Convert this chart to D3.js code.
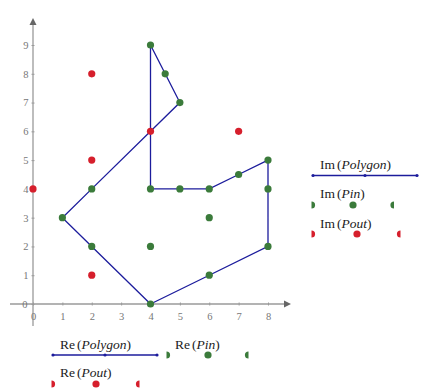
<!DOCTYPE html>
<html><head><meta charset="utf-8">
<script src="https://cdn.jsdelivr.net/npm/d3@7"></script>
<style>body{margin:0;background:#fff}svg{display:block}
.serif{font-family:"Liberation Serif","DejaVu Serif",serif}</style>
</head><body>
<svg id="c" width="440" height="389"></svg>
<script>
const polygonRe = [4,6,8,8,8,7,6,5,4,4,4.5,5,2,1,2,4];
const polygonIm = [0,1,2,4,5,4.5,4,4,4,9,8,7,4,3,2,0];
const pinRe = [4,6,8,8,8,7,6,5,4,4,4.5,5,2,1,2,6,4];
const pinIm = [0,1,2,4,5,4.5,4,4,4,9,8,7,4,3,2,3,2];
const poutRe = [0,2,2,2,4,7];
const poutIm = [4,8,5,1,6,6];
const xTicks = [0,1,2,3,4,5,6,7,8];
const yTicks = [0,1,2,3,4,5,6,7,8,9];

const lineCol = "#1c1c9c", pinCol = "#3b7b3b", poutCol = "#d61f2c", axCol = "#9a9a9a";
const svg = d3.select("#c");
const x = d3.scaleLinear().domain([0,8]).range([33,268]);
const y = d3.scaleLinear().domain([0,9]).range([304,45]);

// axes lines
svg.append("line").attr("x1",10).attr("x2",286).attr("y1",y(0)).attr("y2",y(0)).attr("stroke",axCol).attr("stroke-width",1.3);
svg.append("path").attr("d",`M291,${y(0)} L284,${y(0)-3.5} L284,${y(0)+3.5}Z`).attr("fill","#666");
svg.append("line").attr("x1",x(0)).attr("x2",x(0)).attr("y1",326).attr("y2",24).attr("stroke",axCol).attr("stroke-width",1.3);
svg.append("path").attr("d",`M${x(0)},18 L${x(0)-3.5},25 L${x(0)+3.5},25Z`).attr("fill","#666");

const xAxis = d3.axisBottom(x).tickValues(xTicks).tickSize(3).tickFormat(d3.format("d"));
const gx = svg.append("g").attr("transform",`translate(0,${y(0)-1.5})`).call(xAxis);
gx.attr("font-family",null);
gx.select(".domain").remove();
gx.selectAll(".tick line").attr("stroke",axCol);
gx.selectAll(".tick text").attr("class","serif").attr("fill","#777").attr("font-size",10.5).attr("dy","1.05em");

const yAxis = d3.axisLeft(y).tickValues(yTicks).tickSize(3).tickFormat(d3.format("d"));
const gy = svg.append("g").attr("transform",`translate(${x(0)+1.5},0)`).call(yAxis);
gy.attr("font-family",null);
gy.select(".domain").remove();
gy.selectAll(".tick line").attr("stroke",axCol);
gy.selectAll(".tick text").attr("class","serif").attr("fill","#777").attr("font-size",10.5).attr("x",-6);
gy.selectAll(".tick").filter(d=>d===0).select("text").attr("x",-7);

// polygon
const pts = polygonRe.map((v,i)=>[x(v),y(polygonIm[i])]);
svg.append("path").attr("d",d3.line()(pts)).attr("fill","none").attr("stroke",lineCol).attr("stroke-width",1.3);

svg.selectAll(".pin").data(pinRe.map((v,i)=>[v,pinIm[i]])).enter().append("circle")
  .attr("cx",d=>x(d[0])).attr("cy",d=>y(d[1])).attr("r",3.6).attr("fill",pinCol);
svg.selectAll(".pout").data(poutRe.map((v,i)=>[v,poutIm[i]])).enter().append("circle")
  .attr("cx",d=>x(d[0])).attr("cy",d=>y(d[1])).attr("r",3.6).attr("fill",poutCol);

// legends
const defs = svg.append("defs");
function label(px,py,fn,arg){
  const t = svg.append("text").attr("class","serif").attr("x",px).attr("y",py).attr("font-size",13.5).attr("fill","#222");
  t.append("tspan").text(fn);
  t.append("tspan").text("(").attr("dx",2);
  t.append("tspan").text(arg).attr("font-style","italic");
  t.append("tspan").text(")");
}
function lineSample(x1,x2,yy){
  svg.append("line").attr("x1",x1).attr("x2",x2).attr("y1",yy).attr("y2",yy).attr("stroke",lineCol).attr("stroke-width",1.3);
  [x1,(x1+x2)/2,x2].forEach(cx=>svg.append("circle").attr("cx",cx).attr("cy",yy).attr("r",1.6).attr("fill",lineCol));
}
let cid=0;
function dotSample(x1,xm,x2,yy,col){
  const id="cl"+(cid++);
  defs.append("clipPath").attr("id",id).append("rect").attr("x",x1).attr("y",yy-6).attr("width",x2-x1).attr("height",12);
  const g = svg.append("g").attr("clip-path",`url(#${id})`);
  [x1,xm,x2].forEach(cx=>g.append("circle").attr("cx",cx).attr("cy",yy).attr("r",3.6).attr("fill",col));
}
label(320,169,"Im","Polygon"); lineSample(313,417,175.5);
label(320,198,"Im","Pin"); dotSample(311.5,353,394,205,pinCol);
label(320,228,"Im","Pout"); dotSample(311.5,357,400.5,234,poutCol);

label(60,349,"Re","Polygon"); lineSample(53,157,355);
label(175,349,"Re","Pin"); dotSample(166.5,208,248.5,355,pinCol);
label(60,377,"Re","Pout"); dotSample(51.5,96,139.5,384,poutCol);
</script>
</body></html>
